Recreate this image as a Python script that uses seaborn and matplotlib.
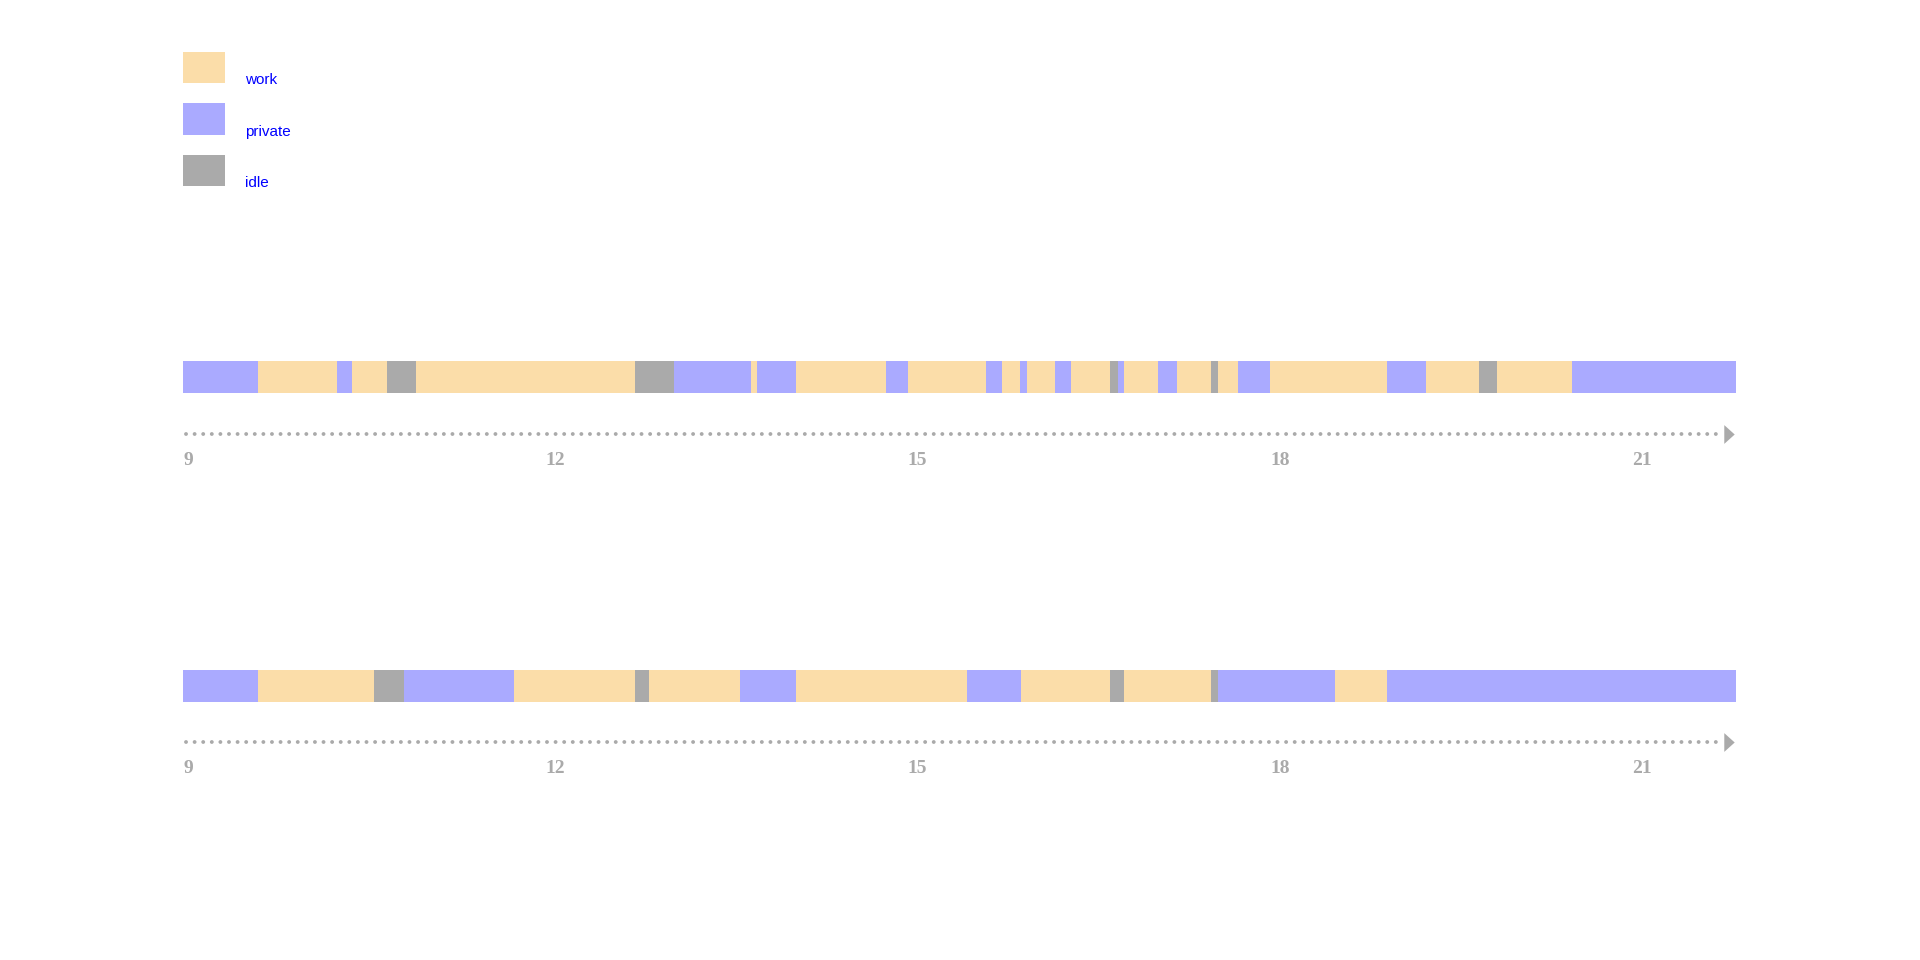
import matplotlib
matplotlib.use("Agg")
import matplotlib.pyplot as plt
from matplotlib.patches import Rectangle
import seaborn as sns
import numpy as np
import pandas as pd

# activity categories and colours
categories = ["work", "private", "idle"]
colors = ["#fbdda9", "#aaaaff", "#aaaaaa"]

# day 1: segment boundaries (hours) and state of each segment
day1_bounds = [9.0, 9.62, 10.27, 10.40, 10.69, 10.93, 12.74, 13.06, 13.70, 13.75,
               14.07, 14.82, 15.00, 15.65, 15.78, 15.93, 15.99, 16.22, 16.35, 16.67,
               16.74, 16.79, 17.07, 17.23, 17.51, 17.57, 17.73, 18.00, 18.97, 19.29,
               19.73, 19.88, 20.50, 21.86]
day1_states = ["private", "work", "private", "work", "idle", "work", "idle", "private",
               "work", "private", "work", "private", "work", "private", "work", "private",
               "work", "private", "work", "idle", "private", "work", "private", "work",
               "idle", "work", "private", "work", "private", "work", "idle", "work",
               "private"]

# day 2
day2_bounds = [9.0, 9.62, 10.58, 10.83, 11.74, 12.74, 12.86, 13.61, 14.07, 15.49,
               15.94, 16.67, 16.79, 17.51, 17.57, 18.54, 18.97, 21.86]
day2_states = ["private", "work", "idle", "private", "work", "idle", "work", "private",
               "work", "private", "work", "idle", "work", "idle", "private", "work",
               "private"]

tick_hours = [9, 12, 15, 18, 21]

sns.set_theme(style="white")
plt.rcParams["font.family"] = ["Liberation Sans", "DejaVu Sans"]

W, H = 1920, 960
fig = plt.figure(figsize=(W / 100, H / 100), dpi=100)
fig.patch.set_facecolor("white")

palette = dict(zip(categories, colors))
x0_px, x1_px = 183.3, 1736.3
t0, t1 = 9.0, 21.86


def to_df(bounds, states):
    b = np.array(bounds)
    return pd.DataFrame({"start": b[:-1], "dur": np.diff(b), "state": states})


def timeline(df, bar_top, line_y, bar_h=32):
    h = line_y - bar_top
    ax = fig.add_axes([x0_px / W, 1 - line_y / H, (x1_px - x0_px) / W, h / H])
    ax.set_xlim(t0, t1)
    ax.set_ylim(0, h)
    for state, grp in df.groupby("state"):
        ax.broken_barh(list(zip(grp["start"], grp["dur"])), (h - bar_h, bar_h),
                       facecolor=palette[state], edgecolor="none")
    # dotted time axis with arrow head
    ax.plot([t0 + 0.02, 21.76], [0, 0], color="#aaaaaa", lw=2.8,
            linestyle=(0, (0.01, 2.2)), dash_capstyle="round", clip_on=False)
    ax.plot([21.80], [0], marker=[(-5, -9), (5, 0), (-5, 9)], ms=13.5,
            color="#aaaaaa", mec="none", clip_on=False)
    ax.set_xticks(tick_hours)
    ax.set_xticklabels([str(t) for t in tick_hours], ha="left")
    ax.tick_params(axis="x", length=0, pad=13, labelsize=14, labelcolor="#aaaaaa")
    for lab in ax.get_xticklabels():
        lab.set_family(["Liberation Serif", "DejaVu Serif"])
        lab.set_fontweight("bold")
    ax.set_yticks([])
    sns.despine(ax=ax, left=True, bottom=True)
    ax.patch.set_alpha(0)
    return ax


timeline(to_df(day1_bounds, day1_states), 360.7, 434)
timeline(to_df(day2_bounds, day2_states), 670, 742)

# legend
lax = fig.add_axes([0, 0, 1, 1])
lax.set_xlim(0, W)
lax.set_ylim(H, 0)
lax.axis("off")
for i, cat in enumerate(categories):
    y = 51.7 + i * 51.4
    lax.add_patch(Rectangle((183.3, y), 42, 31.6, facecolor=palette[cat], edgecolor="none"))
    lax.text(245, y + 32.6, cat, color="blue", fontsize=11, va="baseline", ha="left")

fig.savefig("out.png", dpi=100, facecolor="white")
